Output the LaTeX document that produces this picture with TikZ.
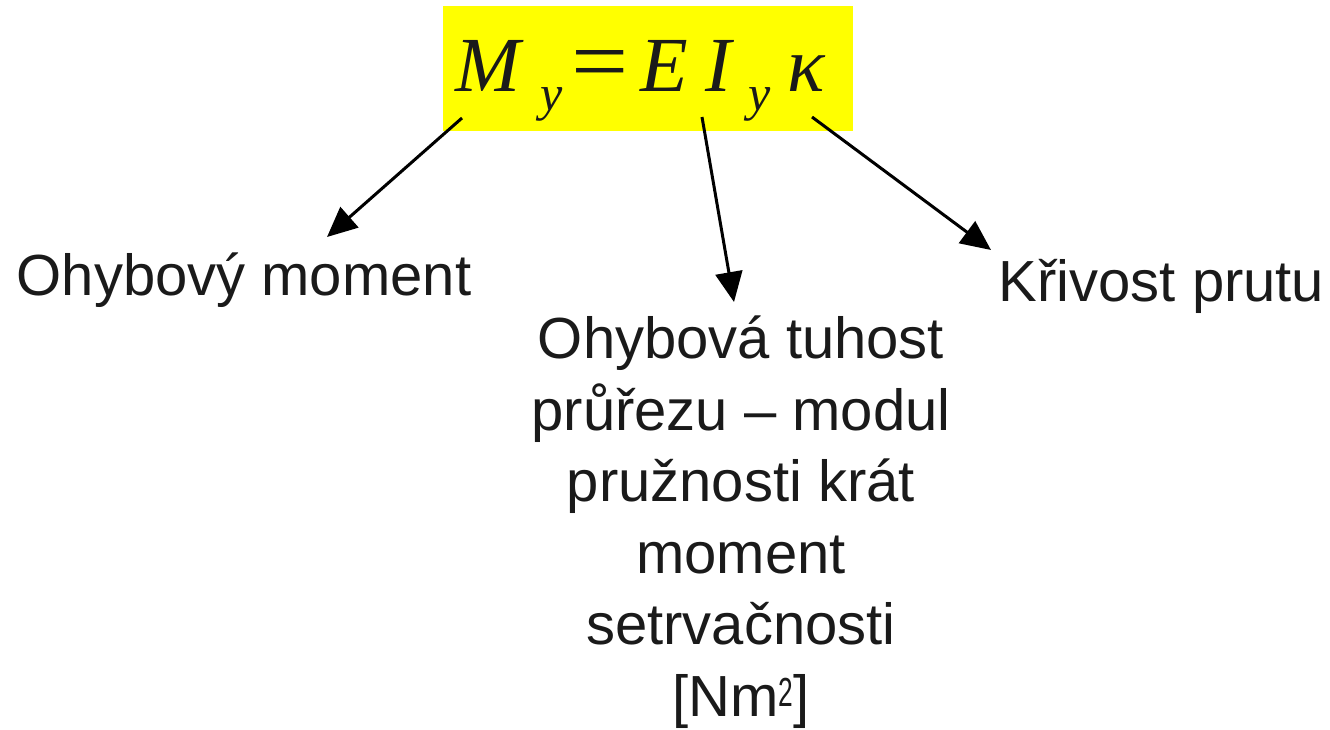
\documentclass[tikz,border=0pt]{standalone}
\usepackage{fontspec}
\usepackage{graphicx}
\setmainfont{Liberation Sans}
\newfontfamily\eqfont{Liberation Serif}
\usetikzlibrary{arrows.meta}
\definecolor{textc}{HTML}{1A1A1A}
\definecolor{hl}{HTML}{FFFF00}
\tikzset{
  lbl/.style={inner sep=0pt, text=textc, font=\fontsize{58}{71.5}\selectfont, align=center},
  arr/.style={line width=3pt, -{Triangle[length=30pt,width=27pt]}},
}
\begin{document}
\begin{tikzpicture}[x=1pt,y=-1pt]
\useasboundingbox (0,0) rectangle (1330,730);
\fill[hl] (443,6) rectangle (853,131);
\node[anchor=base west, inner sep=0pt, text=textc, font=\eqfont\itshape\fontsize{78}{78}\selectfont] (eq) at (455,92)
 {\makebox[85pt][l]{M}\makebox[31pt][l]{\raisebox{-19pt}{\fontsize{50}{50}\selectfont y}}\makebox[69pt][l]{\scalebox{1.3}[1.15]{\upshape =}}\makebox[65pt][l]{E}\makebox[43pt][l]{I}\makebox[39pt][l]{\raisebox{-19pt}{\fontsize{50}{50}\selectfont y}}κ};
\node[lbl, anchor=base] (mom) at (244,295) {Ohybový moment};
\node[lbl, anchor=base] (kriv) at (1161.5,301) {Křivost prutu};
\node[lbl, anchor=base] (tuh) at (741,716) {Ohybová tuhost\\průřezu – modul\\pružnosti krát\\moment\\setrvačnosti\\{[}Nm\textsuperscript{\scalebox{0.65}[1]{2}}{]}};
\coordinate (s1) at (462,118);
\coordinate (e1) at (327,237);
\coordinate (s2) at (702,117);
\coordinate (e2) at (734,302);
\coordinate (s3) at (812,117);
\coordinate (e3) at (991,250);
\draw[arr] (s1) -- (e1);
\draw[arr] (s2) -- (e2);
\draw[arr] (s3) -- (e3);
\end{tikzpicture}
\end{document}
